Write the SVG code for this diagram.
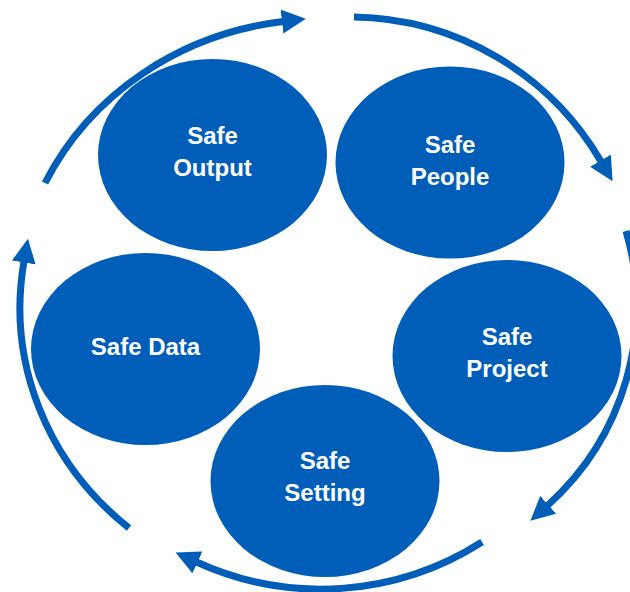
<svg xmlns="http://www.w3.org/2000/svg" width="630" height="592" viewBox="0 0 630 592">
  <style>
    .node { fill: #005EB8; }
    .label { fill: #FFFFFF; font-family: "Liberation Sans", Arial, sans-serif; font-weight: bold; font-size: 24px; text-anchor: middle; }
    .arc { fill: none; stroke: #005EB8; stroke-width: 7; stroke-linecap: butt; marker-end: url(#head); }
  </style>
  <defs>
    <marker id="head" markerUnits="userSpaceOnUse" markerWidth="24" markerHeight="24" viewBox="0 0 24 24" refX="1" refY="12" orient="auto">
      <path d="M0,0 L24,12 L0,24 Z" fill="#005EB8"/>
    </marker>
  </defs>
  <rect width="630" height="592" fill="#FFFFFF"/>

  <g id="connectors">
    <path class="arc" d="M 45 183 A 307 288 0 0 1 283 21.5"/>
    <path class="arc" d="M 354 17 A 291 291 0 0 1 601 161.5"/>
    <path class="arc" d="M 626 231 A 268 268 0 0 1 547.5 505.5"/>
    <path class="arc" d="M 482 542 A 299 299 0 0 1 196.5 562"/>
    <path class="arc" d="M 129 528 A 307 288 0 0 1 24 261.5"/>
  </g>

  <g id="safe-output">
    <ellipse class="node" cx="212.5" cy="155" rx="114.5" ry="96"/>
    <text class="label" x="212.5" y="144">Safe</text>
    <text class="label" x="212.5" y="176">Output</text>
  </g>
  <g id="safe-people">
    <ellipse class="node" cx="450" cy="162.5" rx="114.5" ry="96"/>
    <text class="label" x="450" y="153">Safe</text>
    <text class="label" x="450" y="185">People</text>
  </g>
  <g id="safe-data">
    <ellipse class="node" cx="145.5" cy="349" rx="114.5" ry="96"/>
    <text class="label" x="145.5" y="355">Safe Data</text>
  </g>
  <g id="safe-project">
    <ellipse class="node" cx="507" cy="356" rx="114.5" ry="96"/>
    <text class="label" x="507" y="345">Safe</text>
    <text class="label" x="507" y="377">Project</text>
  </g>
  <g id="safe-setting">
    <ellipse class="node" cx="325" cy="481" rx="114.5" ry="96"/>
    <text class="label" x="325" y="469">Safe</text>
    <text class="label" x="325" y="501">Setting</text>
  </g>
</svg>
